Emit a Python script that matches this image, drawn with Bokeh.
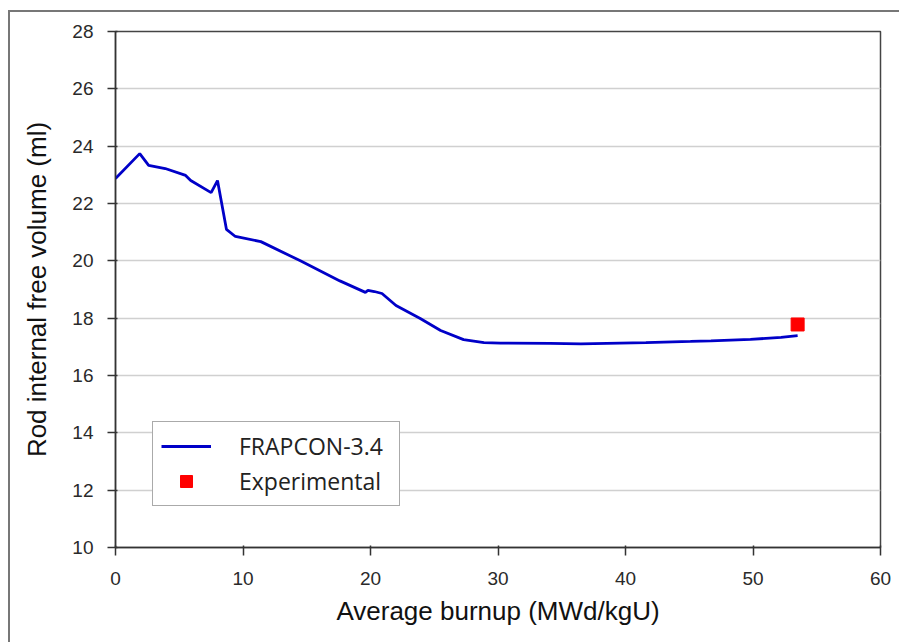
from bokeh.plotting import figure
from bokeh.models import ColumnDataSource, Legend, LegendItem, FixedTicker, Range1d, InlineStyleSheet
from bokeh.embed import file_html
from bokeh.resources import INLINE

# FRAPCON-3.4 simulation
burnup = [0.0, 1.9, 2.6, 3.9, 5.5, 5.9, 7.5, 8.0, 8.7, 9.4, 11.4, 14.5, 17.6, 19.6, 19.8,
          20.3, 20.9, 22.0, 23.9, 25.5, 27.3, 28.9, 30.2, 34.1, 36.5, 41.6, 45.1, 46.7,
          49.8, 52.2, 53.5]
volume = [22.87, 23.74, 23.33, 23.22, 22.98, 22.80, 22.38, 22.80, 21.10, 20.85, 20.67,
          20.00, 19.30, 18.90, 18.97, 18.93, 18.86, 18.44, 17.99, 17.57, 17.25, 17.15,
          17.13, 17.12, 17.10, 17.15, 17.19, 17.21, 17.26, 17.33, 17.39]

# Experimental measurement
exp_burnup = [53.5]
exp_volume = [17.78]

x_ticks = [0, 10, 20, 30, 40, 50, 60]
y_ticks = [10, 12, 14, 16, 18, 20, 22, 24, 26, 28]

W, H = 899, 642
p = figure(width=W, height=H, output_backend="svg", toolbar_location=None,
           x_range=Range1d(0, 60), y_range=Range1d(10, 28),
           min_border_left=115, min_border_right=19, min_border_top=31, min_border_bottom=95)
p.background_fill_color = "white"
p.border_fill_color = "white"
p.outline_line_color = "#444444"
p.outline_line_width = 1.5

line_src = ColumnDataSource(dict(x=burnup, y=volume))
exp_src = ColumnDataSource(dict(x=exp_burnup, y=exp_volume))
r_line = p.line("x", "y", source=line_src, line_color="#0000C8", line_width=2.8)
r_exp = p.scatter("x", "y", source=exp_src, marker="square", size=13,
                  fill_color="#FF0000", line_color="#FF0000")

for ax in (p.xaxis[0], p.yaxis[0]):
    ax.axis_line_color = "#333333"
    ax.axis_line_width = 1.5
    ax.major_tick_line_color = "#333333"
    ax.major_tick_line_width = 1.5
    ax.major_tick_out = 8
    ax.major_tick_in = 2
    ax.minor_tick_line_color = None
    ax.major_label_text_font = "Liberation Sans"
    ax.major_label_text_font_size = "19px"
    ax.major_label_text_color = "#2a2a2a"
    ax.axis_label_text_font = "Liberation Sans"
    ax.axis_label_text_font_size = "26px"
    ax.axis_label_text_font_style = "normal"
    ax.axis_label_text_color = "#111111"

p.xaxis[0].ticker = FixedTicker(ticks=x_ticks)
p.yaxis[0].ticker = FixedTicker(ticks=y_ticks)
p.xaxis[0].axis_label = "Average burnup (MWd/kgU)"
p.yaxis[0].axis_label = "Rod internal free volume (ml)"
p.xaxis[0].major_label_standoff = 16
p.yaxis[0].major_label_standoff = 14
p.xaxis[0].axis_label_standoff = 8
p.yaxis[0].axis_label_standoff = 17

p.xgrid.grid_line_color = None
p.ygrid.grid_line_color = "#D0D0D0"
p.ygrid.grid_line_width = 1.5

legend = Legend(items=[LegendItem(label="FRAPCON-3.4", renderers=[r_line]),
                       LegendItem(label="Experimental", renderers=[r_exp])],
                location=(37, 41), margin=0, padding=8, spacing=3,
                glyph_width=50, glyph_height=30, label_height=30, label_width=152,
                label_standoff=28, label_text_font="Open Sans", label_text_font_size="23px",
                label_text_color="#222222", border_line_color="#555555",
                border_line_width=1.5, background_fill_color="white", background_fill_alpha=1.0)
p.add_layout(legend, "center")

p.stylesheets = [InlineStyleSheet(css="""
:host::after {
  content: "";
  position: absolute;
  left: 8px;
  top: 10px;
  width: calc(100% - 8px);
  height: calc(100% - 10px);
  border-left: 2px solid #777777;
  border-top: 2px solid #777777;
  box-sizing: border-box;
  pointer-events: none;
}
""")]

open("out.html", "w").write(file_html(p, INLINE))
